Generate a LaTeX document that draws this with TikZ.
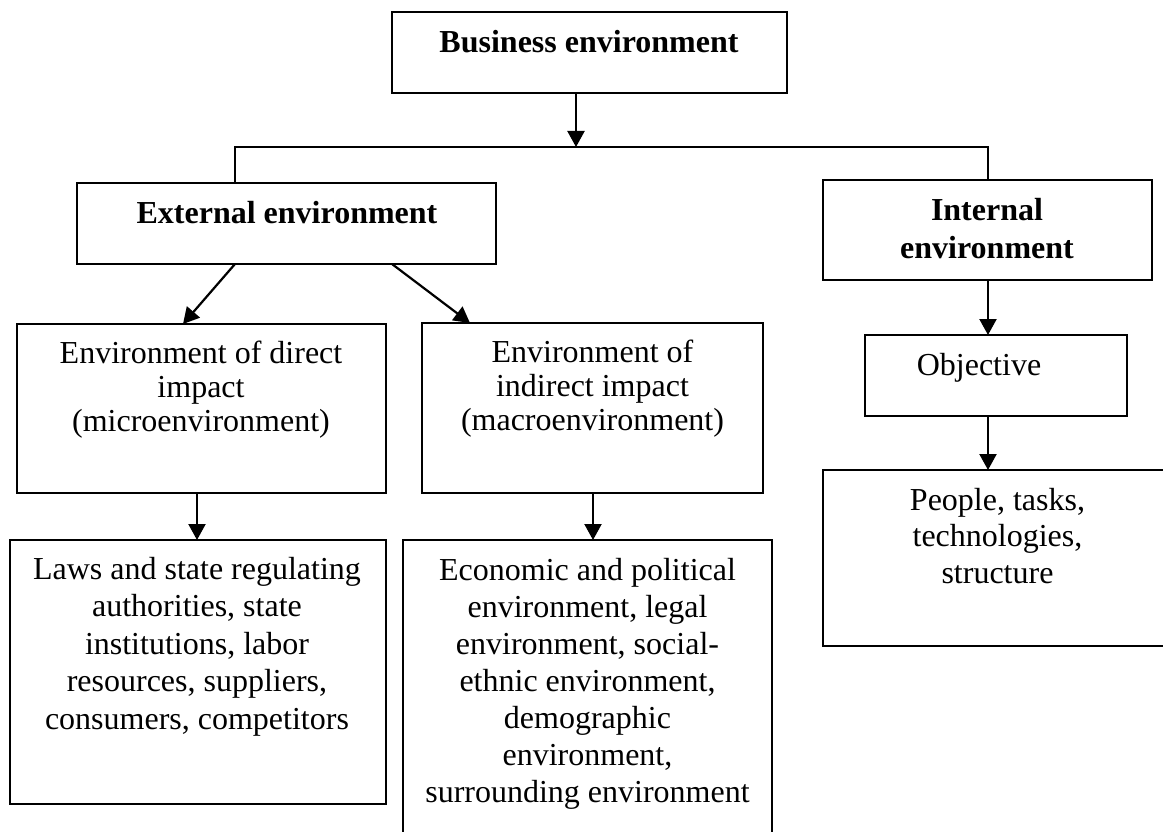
\documentclass[tikz,border=0pt]{standalone}
\usepackage{fontspec}
\setmainfont{Liberation Serif}
\usetikzlibrary{arrows.meta}
\begin{document}
\begin{tikzpicture}[x=1pt,y=-1pt,
  box/.style={draw,line width=2.2pt,inner sep=0pt,outer sep=0pt},
  txt/.style={inner sep=0pt,align=center,font=\fontsize{32}{#1}\selectfont},
  txt/.default=37.5,
  conn/.style={line width=2.2pt},
  arr/.style={line width=2.2pt,-{Triangle[length=16pt,width=17pt]}}]
\useasboundingbox (0,0) rectangle (1163,832);
\clip (0,0) rectangle (1163,832);
\fill[white] (0,0) rectangle (1163,832);
% boxes
\node[box,minimum width=395pt,minimum height=81pt] (biz) at (589.5,52.5) {};
\node[box,minimum width=419pt,minimum height=81pt] (ext) at (286.5,223.5) {};
\node[box,minimum width=329pt,minimum height=100pt] (int) at (987.5,230) {};
\node[box,minimum width=262pt,minimum height=81pt] (obj) at (996,375.5) {};
\node[box,minimum width=369pt,minimum height=169pt] (direct) at (201.5,408.5) {};
\node[box,minimum width=341pt,minimum height=170pt] (indirect) at (592.5,408) {};
\node[box,minimum width=376pt,minimum height=264pt] (laws) at (198,672) {};
\node[box,minimum width=369pt,minimum height=310pt] (econ) at (587.5,695) {};
\node[box,minimum width=352pt,minimum height=176pt] (people) at (999,558) {};
% texts
\node[txt,anchor=base] (tbiz) at (589,53) {\bfseries Business environment};
\node[txt,anchor=base] (text) at (287,223) {\bfseries External environment};
\node[txt=38,anchor=north] (tint) at (987,193.4) {\strut\bfseries Internal\\ \bfseries environment};
\node[txt,anchor=base] (tobj) at (979,375) {Objective};
\node[txt=34,anchor=north] (tdirect) at (201,339.2) {\strut Environment of direct\\ impact\\ (microenvironment)};
\node[txt=34,anchor=north] (tindirect) at (592.5,338.2) {\strut Environment of\\ indirect impact\\ (macroenvironment)};
\node[txt=37.5,anchor=north] (tlaws) at (197,552.75) {\strut Laws and state regulating\\ authorities, state\\ institutions, labor\\ resources, suppliers,\\ consumers, competitors};
\node[txt=37,anchor=north] (tecon) at (587.5,554.1) {\strut Economic and political\\ environment, legal\\ environment, social-\\ ethnic environment,\\ demographic\\ environment,\\ surrounding environment};
\node[txt=36.5,anchor=north] (tpeople) at (997.5,484.45) {\strut People, tasks,\\ technologies,\\ structure};
% connectors
\coordinate (bj) at (576,147);
\coordinate (lt) at (235,147);
\coordinate (rt) at (988,147);
\draw[arr] (biz.south -| bj) -- (bj);
\draw[conn] (ext.north -| lt) -- (lt) -- (rt) -- (int.north -| rt);
\draw[arr] ([xshift=-51.5pt]ext.south) -- ([xshift=-18.5pt]direct.north);
\draw[arr] ([xshift=105.5pt]ext.south) -- ([xshift=-122.5pt]indirect.north);
\draw[arr] ([xshift=-4.5pt]direct.south) -- ([xshift=-4.5pt]direct.south |- laws.north);
\draw[arr] ([xshift=0.5pt]indirect.south) -- ([xshift=0.5pt]indirect.south |- econ.north);
\draw[arr] ([xshift=0.5pt]int.south) -- ([xshift=0.5pt]int.south |- obj.north);
\draw[arr] ([xshift=-8pt]obj.south) -- ([xshift=-8pt]obj.south |- people.north);
\end{tikzpicture}
\end{document}
